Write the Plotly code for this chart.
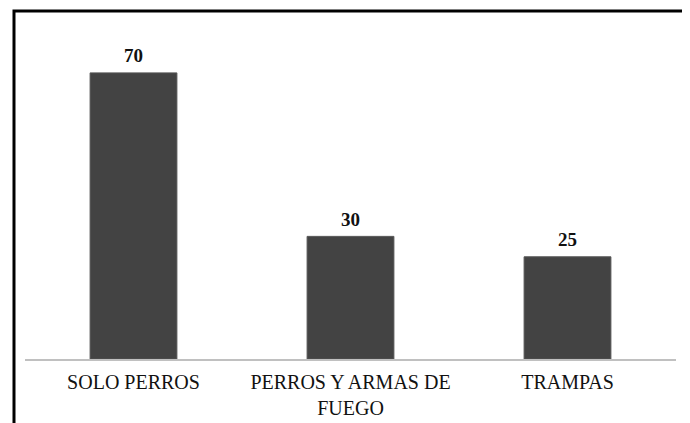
import plotly.graph_objects as go

# categories and values
categorias = ["SOLO PERROS", "PERROS Y ARMAS DE<br>FUEGO", "TRAMPAS"]
valores = [70, 30, 25]

fig = go.Figure(
    data=[
        go.Bar(
            x=categorias,
            y=valores,
            marker_color="#434343",
            marker_line=dict(color="#555555", width=1),
        )
    ]
)

# value labels above the bars
for cat, val in zip(categorias, valores):
    fig.add_annotation(
        x=cat,
        y=val,
        text="<b>%d</b>" % val,
        showarrow=False,
        yanchor="middle",
        yshift=17,
        font=dict(family="Liberation Serif", size=19, color="#111111"),
    )

# page body adds an 8px margin, so the plot area is shifted up/left by 8px
fig.update_layout(
    width=690,
    height=423,
    margin=dict(l=17, r=22, t=24, b=72),
    paper_bgcolor="white",
    plot_bgcolor="white",
    bargap=0.6,
    showlegend=False,
    font=dict(family="Liberation Serif", size=20, color="#111111"),
    xaxis=dict(
        showline=True,
        linecolor="#c0c0c0",
        linewidth=2,
        ticks="outside",
        ticklen=4,
        tickcolor="rgba(0,0,0,0)",
        tickfont=dict(family="Liberation Serif", size=20, color="#111111"),
    ),
    yaxis=dict(
        range=[0, 80],
        visible=False,
        showgrid=False,
        zeroline=False,
    ),
    # black frame around the whole picture
    shapes=[
        dict(
            type="rect",
            xref="paper",
            yref="paper",
            x0=-0.0169,
            x1=1.0123,
            y0=-0.23,
            y1=1.0642,
            line=dict(color="black", width=3),
            fillcolor="rgba(0,0,0,0)",
        )
    ],
)

fig.write_html("out.html")
